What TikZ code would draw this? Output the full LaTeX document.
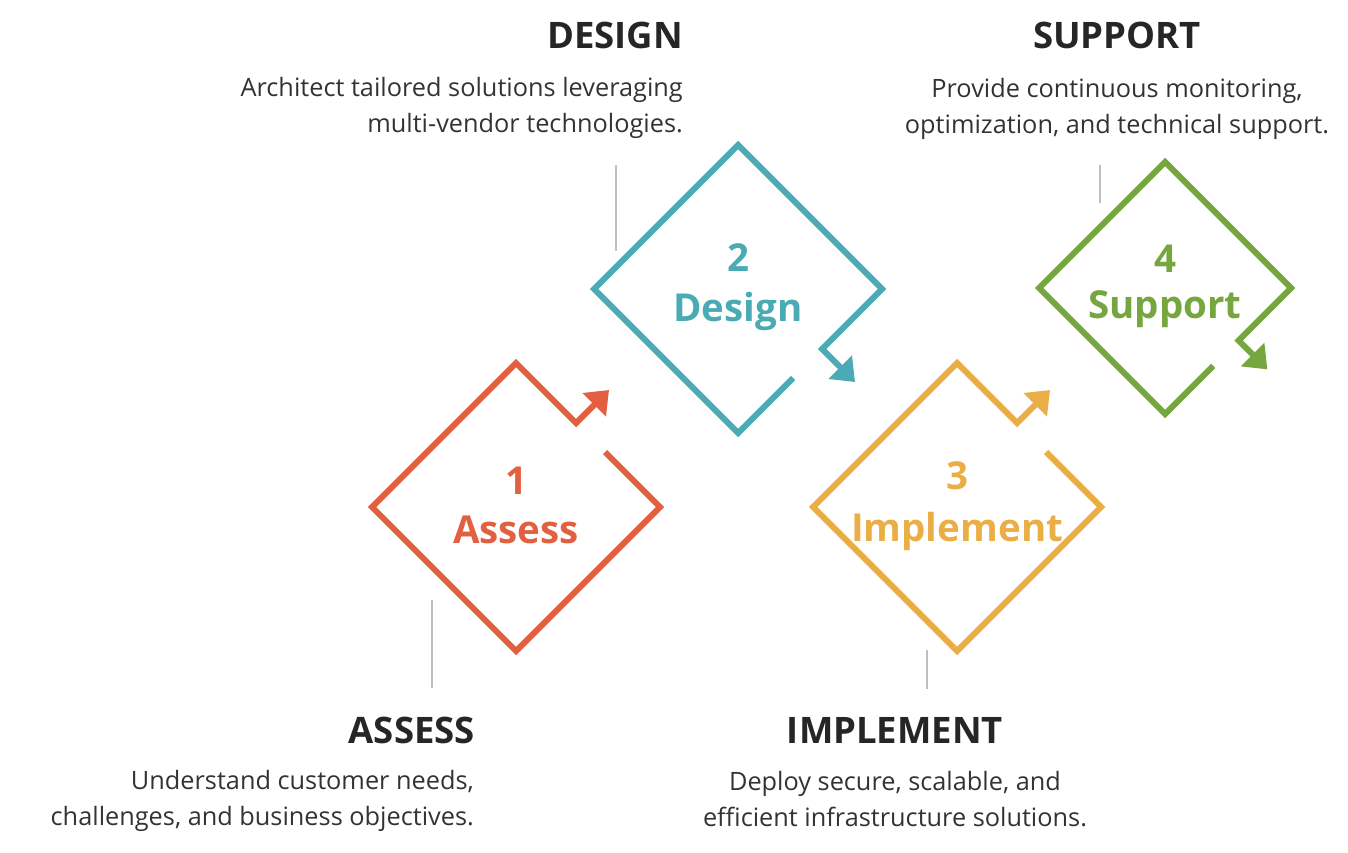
\documentclass[tikz,border=0pt]{standalone}
\usepackage{fontspec}
\setmainfont{Open Sans}
\usepackage{tikz}
\usetikzlibrary{arrows.meta,positioning}
\definecolor{AssessOrange}  {RGB}{226, 96, 64}
\definecolor{DesignTeal}    {RGB}{ 75,171,181}
\definecolor{ImplementGold} {RGB}{235,174, 70}
\definecolor{SupportGreen}  {RGB}{118,166, 64}
\definecolor{HeadDark}      {RGB}{ 38, 38, 38}
\definecolor{BodyDark}      {RGB}{ 51, 51, 51}
\definecolor{GuideGray}     {RGB}{191,191,191}
\tikzset{
  stagehead/.style={font=\fontsize{36.5}{40}\selectfont\bfseries,text=HeadDark,inner sep=0pt},
  stagetext/.style={font=\fontsize{25.3}{36}\selectfont,text=BodyDark,inner sep=0pt},
  stagelabel/.style={font=\fontsize{38.5}{44}\selectfont\bfseries,inner sep=0pt,anchor=base},
  stageline/.style={line width=6pt,-{Triangle[width=32pt,length=21pt]}},
  guide/.style={GuideGray,line width=2.8pt}
}

\begin{document}
\begin{tikzpicture}[x=1pt,y=-1pt]
\useasboundingbox (0,0) rectangle (1348,853);
\foreach \cx/\cy/\rot/\sc/\col in {516/507/0/1/AssessOrange,738/289/-90/1/DesignTeal,
    957/507/0/1/ImplementGold,1165/288/-90/0.875/SupportGreen}
  \draw[stageline,color=\col,shift={(\cx,\cy)},rotate=\rot,scale=\sc]
    (89,-55) -- (144,0) -- (0,144) -- (-144,0) -- (0,-144) -- (60,-84) -- (93,-117);
\foreach \gx/\gya/\gyb in {616/165/251,432/600/688,927/650/689,1100/165/203}
  \draw[guide] (\gx,\gya) -- (\gx,\gyb);
\node[stagelabel,AssessOrange] (assessnum) at (516,494) {1};
\node[stagelabel,AssessOrange] (assessword) at (516,543) {Assess};
\node[stagelabel,DesignTeal] (designnum) at (738,271) {2};
\node[stagelabel,DesignTeal] (designword) at (738,321) {Design};
\node[stagelabel,ImplementGold] (implementnum) at (957,489) {3};
\node[stagelabel,ImplementGold] (implementword) at (957,541) {Implement};
\node[stagelabel,SupportGreen] (supportnum) at (1165,272) {4};
\node[stagelabel,SupportGreen] (supportword) at (1165,318) {Support};
\node[stagehead,anchor=base east] (designhead) at (683,49) {DESIGN};
\node[stagetext,anchor=base east,align=right] (designtext) at (683,133)
  {Architect tailored solutions leveraging\\multi-vendor technologies.};
\node[stagehead,anchor=base] (supporthead) at (1117,49) {SUPPORT};
\node[stagetext,anchor=base,align=center] (supporttext) at (1117,134)
  {Provide continuous monitoring,\\optimization, and technical support.};
\node[stagehead,anchor=base east] (assesshead) at (475,743) {ASSESS};
\node[stagetext,anchor=base east,align=right] (assesstext) at (474,825)
  {Understand customer needs,\\challenges, and business objectives.};
\node[stagehead,anchor=base] (implementhead) at (895,743) {IMPLEMENT};
\node[stagetext,anchor=base,align=center] (implementtext) at (895,826)
  {Deploy secure, scalable, and\\efficient infrastructure solutions.};
\end{tikzpicture}
\end{document}
